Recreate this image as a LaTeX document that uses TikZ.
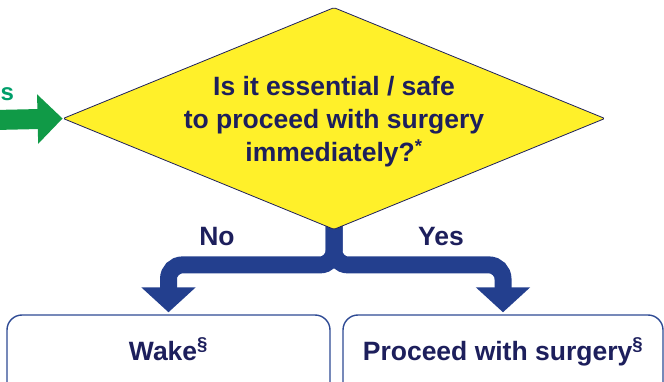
\documentclass[tikz,border=0pt]{standalone}
\usepackage{fontspec}
\setmainfont{Liberation Sans}
\usetikzlibrary{shapes.geometric,arrows.meta}
\definecolor{qyellow}{HTML}{FFF02A}
\definecolor{navytext}{HTML}{1D1F5C}
\definecolor{connblue}{HTML}{233F8E}
\definecolor{boxblue}{HTML}{2E4A94}
\definecolor{arrgreen}{HTML}{109A47}
\definecolor{txtgreen}{HTML}{009E6A}
\pgfdeclarelayer{bg}
\pgfsetlayers{bg,main}
\tikzset{
  bigtext/.style={font=\fontsize{26.5pt}{33pt}\selectfont\bfseries, text=navytext},
  qdiamond/.style={shape=diamond, draw=navytext, line width=0.8pt, fill=qyellow,
    minimum width=542pt, minimum height=222pt, inner sep=0pt, rounded corners=1.5pt},
  outbox/.style={draw=boxblue, line width=1.4pt, rounded corners=15pt, fill=white,
    minimum height=90pt, inner sep=0pt, text height=20pt, text depth=20pt, bigtext},
  blueconn/.style={draw=connblue, line width=17pt, rounded corners=14pt,
    -{Triangle[length=25pt,width=53pt]}},
  greenarrow/.style={draw=arrgreen, line width=20pt,
    -{Triangle[length=25pt,width=48pt]}},
  branchlabel/.style={bigtext, anchor=base, inner sep=0pt}
}
\begin{document}
\begin{tikzpicture}[x=1pt,y=-1pt]
\useasboundingbox (0,0) rectangle (664,382);
\clip (0,0) rectangle (664,382);
\node[qdiamond] (q) at (334,118.5) {};
\node[bigtext, align=center, inner sep=0pt] (qtext) at (334,122)
  {Is it essential / safe\\to proceed with surgery\\immediately?\textsuperscript{*}};
\node[outbox, minimum width=323pt] (wake) at (168.5,360) {Wake\textsuperscript{§}};
\node[outbox, minimum width=320pt] (proc) at (503,360) {Proceed with surgery\textsuperscript{§}};
\node[font=\fontsize{24pt}{30pt}\selectfont\bfseries, text=txtgreen, anchor=base west, inner sep=0pt] (prev) at (0.5,101) {s};
\coordinate (gstart) at (-5,120);
\begin{pgfonlayer}{bg}
\draw[blueconn] ([yshift=12pt]q.south) -- ++(0,47) -| ([yshift=2pt]wake.north);
\draw[blueconn] ([yshift=12pt]q.south) -- ++(0,47) -| ([yshift=2pt]proc.north);
\end{pgfonlayer}
\draw[greenarrow] (gstart) -- (q.west);
\node[branchlabel] (no) at (217,245) {No};
\node[branchlabel] (yes) at (441,245) {Yes};
\end{tikzpicture}
\end{document}
